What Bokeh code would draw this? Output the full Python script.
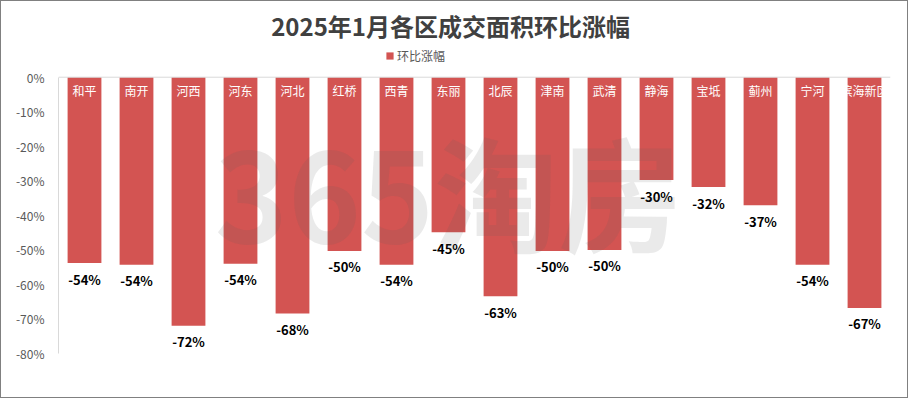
from bokeh.plotting import figure
from bokeh.models import Range1d, FixedTicker, NumeralTickFormatter, Span, ColumnDataSource, Legend
from bokeh.core.properties import value
from bokeh.embed import file_html
from bokeh.resources import INLINE

# ---- data ----
districts = ["和平", "南开", "河西", "河东", "河北", "红桥", "西青", "东丽",
             "北辰", "津南", "武清", "静海", "宝坻", "蓟州", "宁河", "滨海新区"]
mom_change = [-0.538, -0.543, -0.720, -0.540, -0.684, -0.503, -0.543, -0.449,
              -0.634, -0.503, -0.500, -0.298, -0.318, -0.371, -0.543, -0.668]
y_ticks = [0.0, -0.1, -0.2, -0.3, -0.4, -0.5, -0.6, -0.7, -0.8]
title_text = "2025年1月各区成交面积环比涨幅"
series_name = "环比涨幅"
watermark = "365淘房"

FONT = "Noto Sans CJK SC"
BAR = "#D35452"

xs = [i + 0.5 for i in range(len(districts))]
labels = [f"{round(v * 100)}%" for v in mom_change]
src = ColumnDataSource(dict(x=xs, top=mom_change, name=districts, lab=labels))

p = figure(width=908, height=398, output_backend="svg", toolbar_location=None,
           x_range=Range1d(0, len(districts)), y_range=Range1d(-0.9332, 0.2192),
           x_axis_type=None, min_border_left=57, min_border_right=19,
           min_border_top=0, min_border_bottom=0)
p.styles = {"border": "1px solid #808080"}
p.outline_line_color = None
p.grid.visible = False
p.background_fill_color = "white"
p.border_fill_color = "white"

bars = p.vbar(x="x", top="top", bottom=0, width=0.65, source=src,
              fill_color=BAR, line_color=None)

# y axis
ax = p.yaxis[0]
ax.ticker = FixedTicker(ticks=y_ticks)
ax.formatter = NumeralTickFormatter(format="0%")
ax.bounds = (min(y_ticks), max(y_ticks))
ax.axis_line_color = "#d9d9d9"
ax.major_tick_line_color = None
ax.minor_tick_line_color = None
ax.major_label_standoff = 8
ax.major_label_text_font = FONT
ax.major_label_text_font_size = "12px"
ax.major_label_text_color = "#595959"

p.add_layout(Span(location=0, dimension="width", line_color="#d9d9d9", line_width=1))

# category labels inside bars (white)
p.text(x="x", y=0, text="name", source=src, text_font=value(FONT), text_font_size="12px",
       text_color="white", text_align="center", text_baseline="middle", y_offset=13)

# value labels
p.text(x="x", y="top", text="lab", source=src, text_font=value(FONT), text_font_size="13px",
       text_font_style="bold", text_color="black", text_align="center",
       text_baseline="middle", y_offset=16)

# watermark
p.text(x=[7.5], y=[-0.325], text=[watermark], text_font=value(FONT), text_font_size="124px",
       text_font_style="bold", text_color="#606060", text_alpha=0.13,
       text_align="center", text_baseline="middle")

# title
p.text(x=[7.54], y=[0.1497], text=[title_text], text_font=value(FONT), text_font_size="24px",
       text_font_style="bold", text_color="#404040", text_align="center",
       text_baseline="middle")

legend = Legend(items=[(series_name, [bars])], location=(327, 335),
                orientation="horizontal", padding=0, margin=0,
                glyph_width=9, glyph_height=9, label_height=9, label_standoff=3,
                label_text_font=FONT, label_text_font_size="12px",
                label_text_color="#595959", border_line_color=None,
                background_fill_alpha=0)
p.add_layout(legend)

open("out.html", "w").write(file_html(p, INLINE))
